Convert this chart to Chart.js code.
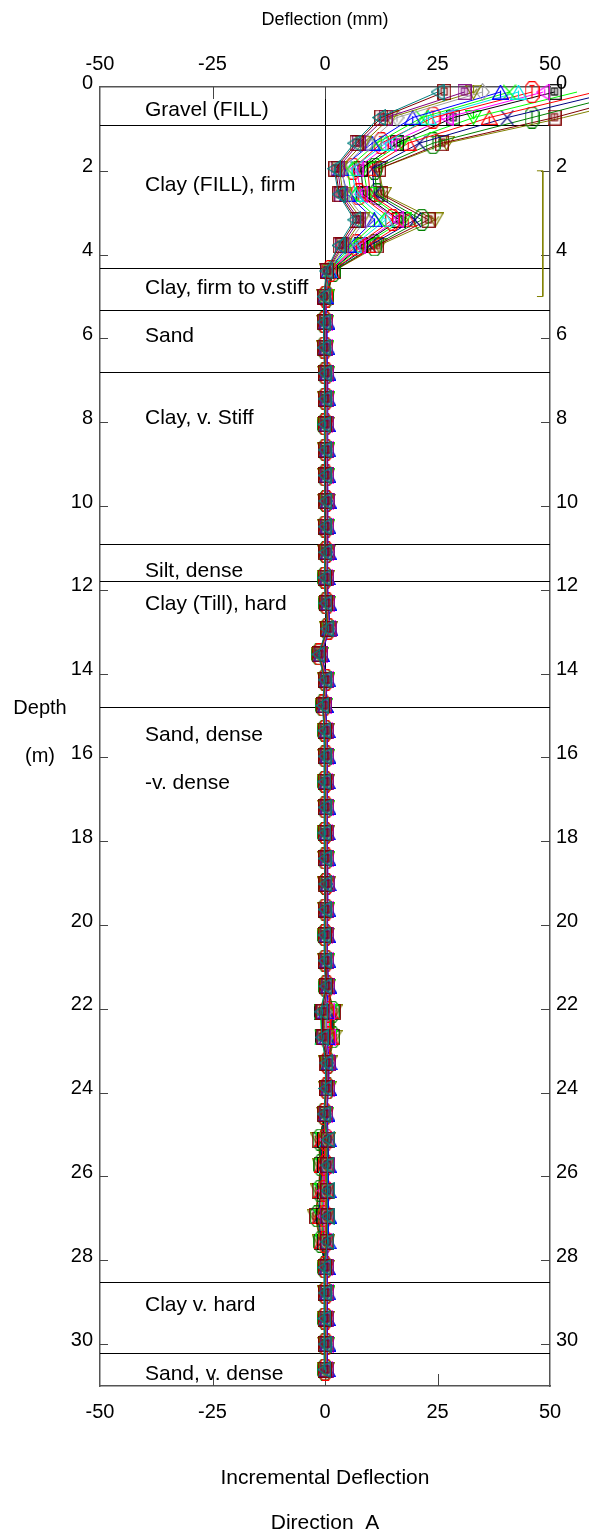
<!DOCTYPE html>
<html>
<head>
<meta charset="utf-8">
<script src="https://cdn.jsdelivr.net/npm/chart.js@4/dist/chart.umd.min.js"></script>
<style>
  html, body { margin: 0; padding: 0; background: #fff; }
  #wrap { width: 589px; height: 1539px; }
</style>
</head>
<body>
<div id="wrap"><canvas id="c" width="589" height="1539"></canvas></div>
<script>
// Reading depths (m), one row every 2 ft down the casing
const depths = [0.12, 0.73, 1.34, 1.95, 2.56, 3.17, 3.78, 4.39, 5.00, 5.61, 6.22, 6.83, 7.44, 8.05, 8.66, 9.27, 9.88,
  10.49, 11.10, 11.71, 12.32, 12.93, 13.54, 14.15, 14.76, 15.36, 15.97, 16.58, 17.19, 17.80, 18.41, 19.02, 19.63,
  20.24, 20.85, 21.46, 22.07, 22.68, 23.29, 23.90, 24.51, 25.12, 25.73, 26.34, 26.95, 27.56, 28.17, 28.78, 29.39,
  30.00, 30.61];

// Axis ticks
const xTicks = [-50, -25, 0, 25, 50];
const depthTicks = [0, 2, 4, 6, 8, 10, 12, 14, 16, 18, 20, 22, 24, 26, 28, 30];
const xMin = -50, xMax = 50, depthMin = 0, depthMax = 31;

// Soil profile
const layerDepths = [0.90, 4.31, 5.31, 6.79, 10.91, 11.79, 14.79, 28.51, 30.21];
const soilNames = ['Gravel (FILL)', 'Clay (FILL), firm', 'Clay, firm to v.stiff', 'Sand', 'Clay, v. Stiff',
  'Silt, dense', 'Clay (Till), hard', 'Sand, dense', '-v. dense', 'Clay v. hard', 'Sand, v. dense'];
const soilDepths = [0.56, 2.34, 4.80, 5.95, 7.90, 11.55, 12.34, 15.46, 16.61, 29.06, 30.71];
const soilTextX = -40;

// Bracket marking the zone of movement
const bracketX = [47.1, 48.4, 48.4, 47.1];
const bracketDepth = [2.0, 2.0, 5.0, 5.0];

// Incremental deflection readings (mm), one list per survey, earliest first
const r01 = [25,12,6.5,2,3,6.5,3,0.3,-0.3, -0.3,-0.3,-0.1,-0.1,-0.2,-0.1,-0.1, 0,-0.1,0,-0.2,0.1,0.4,-1.5, -0.1,-0.6,-0.2,-0.1,-0.2,-0.1,-0.2, -0.1,0,-0.1,-0.2,-0.1,0.1,-0.9, -0.7,0.2,0.1,-0.3,0.7,0.5,0.6, 0.6,0.5,-0.2,-0.1,-0.2,-0.1,-0.2];
const r02 = [26.5,12.5,7,2.3,3.2,7,3.3,0.4,-0.2, -0.2,-0.2,0,0,-0.1,0,0, 0.1,0,0.1,-0.1,0.2,0.5,-1.4, 0,-0.5,-0.1,0,-0.1,0,-0.1, 0,0.1,0,-0.1,0,0.2,-0.6, -0.5,0.3,0.2,-0.2,0.6,0.5,0.5, 0.6,0.4,-0.1,0,-0.1,0,-0.1];
const r03 = [31,13.5,7.5,2.8,3.6,7.5,3.8,0.5,-0.2, 0.3,0.3,0.5,0.5,0.4,0.5,0.5, 0.6,0.5,0.6,0.4,0.7,1.0,-0.9, 0.5,0,0.4,0.5,0.4,0.5,0.4, 0.5,0.6,0.5,0.4,0.5,0.7,-0.4, -0.2,0.8,0.7,0.3,0.6,0.6,0.5, 0.5,0.5,0.4,0.5,0.4,0.5,0.4];
const r04 = [33,14.5,8.5,3.2,4,8.2,4.2,0.6,-0.1, -0.1,-0.1,0.1,0.1,0,0.1,0.1, 0.2,0.1,0.2,0,0.3,0.6,-1.3, 0.1,-0.4,0,0.1,0,0.1,0, 0.1,0.2,0.1,0,0.1,0.3,-0.2, 0,0.4,0.3,-0.1,0.5,0.4,0.4, 0.4,0.4,0,0.1,0,0.1,0];
const r05 = [35,16,9.5,3.8,4.6,9,4.8,0.7,-0.1, 0.2,0.2,0.4,0.4,0.3,0.4,0.4, 0.5,0.4,0.5,0.3,0.6,0.9,-1.0, 0.4,-0.1,0.3,0.4,0.3,0.4,0.3, 0.4,0.5,0.4,0.3,0.4,0.6,0, 0.2,0.7,0.6,0.2,0.5,0.4,0.3, 0.3,0.3,0.3,0.4,0.3,0.4,0.3];
const r06 = [39,19.5,10.5,3.5,5,11,5.2,0.8,0, 0.4,0.4,0.6,0.6,0.5,0.6,0.6, 0.7,0.6,0.7,0.5,0.8,1.1,-0.8, 0.6,0.1,0.5,0.6,0.5,0.6,0.5, 0.6,0.7,0.6,0.5,0.6,0.8,0.2, 0.4,0.9,0.8,0.4,0.8,0.7,0.7, 0.8,0.7,0.5,0.6,0.5,0.6,0.5];
const r07 = [41,21.5,11.5,5,5.8,12,5.8,0.9,0, -0.2,-0.2,0,0,-0.1,0,0, 0.1,0,0.1,-0.1,0.2,0.5,-1.4, 0,-0.5,-0.1,0,-0.1,0,-0.1, 0,0.1,0,-0.1,0,0.2,-1.0, -0.8,0.3,0.2,-0.2,0.3,0.3,0.2, 0.3,0.2,-0.1,0,-0.1,0,-0.1];
const r08 = [43,23,13.5,6,6.8,13.5,6.4,1.0,0, 0.3,0.3,0.5,0.5,0.4,0.5,0.5, 0.6,0.5,0.6,0.4,0.7,1.0,-0.9, 0.5,0,0.4,0.5,0.4,0.5,0.4, 0.5,0.6,0.5,0.4,0.5,0.7,-0.5, -0.3,0.8,0.7,0.3,0.6,0.6,0.6, 0.7,0.6,0.4,0.5,0.4,0.5,0.4];
const r09 = [46,24,12.5,6.2,7.5,15,7,1.1,0.1, 0,0,0.2,0.2,0.1,0.2,0.2, 0.3,0.2,0.3,0.1,0.4,0.7,-1.2, 0.2,-0.3,0.1,0.2,0.1,0.2,0.1, 0.2,0.3,0.2,0.1,0.2,0.4,0.3, 0.5,0.5,0.4,0,0.2,0.1,0, 0,0,0.1,0.2,0.1,0.2,0.1];
const r10 = [48.5,27,14.5,7,8,16,7.5,1.2,0.1, 0.2,0.2,0.4,0.4,0.3,0.4,0.4, 0.5,0.4,0.5,0.3,0.6,0.9,-1.0, 0.4,-0.1,0.3,0.4,0.3,0.4,0.3, 0.4,0.5,0.4,0.3,0.4,0.6,0.6, 0.8,0.7,0.6,0.2,0,-0.1,-0.2, -0.3,-0.1,0.3,0.4,0.3,0.4,0.3];
const r11 = [51,28.5,16,8,8.5,16.5,8,1.3,0.1, -0.1,-0.1,0.1,0.1,0,0.1,0.1, 0.2,0.1,0.2,0,0.3,0.6,-1.3, 0.1,-0.4,0,0.1,0,0.1,0, 0.1,0.2,0.1,0,0.1,0.3,-0.8, -0.6,0.4,0.3,-0.1,-0.2,-0.2,-0.3, -0.5,-0.3,0,0.1,0,0.1,0];
const r12 = [56,33,17,8.5,9.5,17.5,8.5,1.4,0.2, 0.1,0.1,0.3,0.3,0.2,0.3,0.3, 0.4,0.3,0.4,0.2,0.5,0.8,-1.1, 0.3,-0.2,0.2,0.3,0.2,0.3,0.2, 0.3,0.4,0.3,0.2,0.3,0.5,0.9, 1.0,0.6,0.5,0.1,-0.4,-0.3,-0.5, -0.8,-0.4,0.2,0.3,0.2,0.3,0.2];
const r13 = [60,36.5,18.5,9.5,10,18.5,9.5,1.5,0.2, 0.3,0.3,0.5,0.5,0.4,0.5,0.5, 0.6,0.5,0.6,0.4,0.7,1.0,-0.9, 0.5,0,0.4,0.5,0.4,0.5,0.4, 0.5,0.6,0.5,0.4,0.5,0.7,1.2, 1.3,0.8,0.7,0.3,-0.6,-0.5,-0.7, -1.1,-0.6,0.4,0.5,0.4,0.5,0.4];
const r14 = [64,40.5,21,10.5,11,20,10,1.6,0.3, 0,0,0.2,0.2,0.1,0.2,0.2, 0.3,0.2,0.3,0.1,0.4,0.7,-1.2, 0.2,-0.3,0.1,0.2,0.1,0.2,0.1, 0.2,0.3,0.2,0.1,0.2,0.4,1.4, 1.5,0.6,0.5,0,-0.9,-0.7,-0.9, -1.4,-0.8,0.1,0.2,0.1,0.2,0.1];
const r15 = [68,46,24,11,11.5,21.5,11,1.8,0.3, -0.2,-0.2,0,0,-0.1,0,0, 0.1,0,0.1,-0.1,0.2,0.5,-1.4, 0,-0.5,-0.1,0,-0.1,0,-0.1, 0,0.1,0,-0.1,0,0.2,1.6, 1.7,0.6,0.5,-0.2,-1.1,-0.9,-1.1, -1.7,-0.9,-0.1,0,-0.1,0,-0.1];
const r16 = [72,51,26,12,12.5,23,11.5,1.9,0.4, 0.1,0.1,0.3,0.3,0.2,0.3,0.3, 0.4,0.3,0.4,0.2,0.5,0.8,-1.1, 0.3,-0.2,0.2,0.3,0.2,0.3,0.2, 0.3,0.4,0.3,0.2,0.3,0.5,1.9, 1.8,0.8,0.7,0.1,-1.4,-1.0,-1.4, -2.0,-1.0,0.2,0.3,0.2,0.3,0.2];
const r17 = [76,53,27,12,13,24.5,12,2.0,0.4, 0.2,0.2,0.4,0.4,0.3,0.4,0.4, 0.5,0.4,0.5,0.3,0.6,0.9,-1.0, 0.4,-0.1,0.3,0.4,0.3,0.4,0.3, 0.4,0.5,0.4,0.3,0.4,0.6,2.0, 2.0,0.9,0.8,0.2,-1.5,-1.1,-1.5, -2.2,-1.1,0.3,0.4,0.3,0.4,0.3];

const readings = [r01, r02, r03, r04, r05, r06, r07, r08, r09, r10, r11, r12, r13, r14, r15, r16, r17];
const seriesColors = ['#008080', '#800000', '#800080', '#808000', '#a0a0a0', '#0000ff', '#00ff00', '#00e8e8',
  '#ff0000', '#ff00ff', '#000000', '#00ff00', '#ff0000', '#000080', '#008000', '#800000', '#808000'];
const seriesShapes = ['ltri', 'sq', 'sq', 'dtri', 'dia', 'tri', 'x', 'tri', 'oct', 'ltri', 'sq', 'dtri', 'tri',
  'x', 'oct', 'sq', 'dtri'];

const FONT = '"Liberation Sans", Arial, sans-serif';

// Open plotting symbols rendered once per series
function makeMarker(shape, color) {
  const sizes = { sq: [14, 16], oct: [15, 22], tri: [17, 15], dtri: [17, 15], ltri: [14, 17], x: [14, 16], dia: [15, 18] };
  const [w, h] = sizes[shape];
  const c = document.createElement('canvas');
  c.width = w; c.height = h;
  const g = c.getContext('2d');
  g.strokeStyle = color;
  g.lineWidth = 1.2;
  const poly = pts => { g.beginPath(); pts.forEach((p, i) => i ? g.lineTo(p[0], p[1]) : g.moveTo(p[0], p[1])); g.closePath(); g.stroke(); };
  const seg = (a, b, cx, d) => { g.beginPath(); g.moveTo(a, b); g.lineTo(cx, d); g.stroke(); };
  if (shape === 'sq') {
    g.strokeRect(0.7, 0.7, w - 1.4, h - 1.4);
    g.strokeRect(4, 4, w - 8, h - 9);
    seg(w / 2, 4, w / 2, h - 5);
  } else if (shape === 'oct') {
    poly([[4.5, 0.7], [10.5, 0.7], [14.3, 5.5], [14.3, 16.5], [10.5, 21.3], [4.5, 21.3], [0.7, 16.5], [0.7, 5.5]]);
    seg(7.5, 4.5, 7.5, 17.5); seg(5, 4.5, 10, 4.5);
  } else if (shape === 'tri') {
    poly([[8.5, 0.7], [16.3, 14.3], [0.7, 14.3]]);
    seg(8.5, 6, 8.5, 13.5);
  } else if (shape === 'dtri') {
    poly([[0.7, 0.7], [16.3, 0.7], [8.5, 14.3]]);
    seg(8.5, 1, 8.5, 9); seg(5, 4, 8.5, 9); seg(12, 4, 8.5, 9);
  } else if (shape === 'ltri') {
    poly([[0.7, 8.5], [13.3, 0.7], [13.3, 16.3]]);
    seg(8.5, 5.5, 8.5, 11.5);
  } else if (shape === 'x') {
    seg(0.7, 0.7, 13.3, 15.3); seg(13.3, 0.7, 0.7, 15.3);
  } else if (shape === 'dia') {
    poly([[7.5, 0.7], [14.3, 9], [7.5, 17.3], [0.7, 9]]);
    seg(7.5, 4.5, 7.5, 13.5);
  }
  return c;
}

const datasets = [{
  data: bracketX.map((v, i) => ({ x: v, y: bracketDepth[i] })),
  showLine: true, borderColor: '#808000', borderWidth: 1, pointRadius: 0, clip: false
}];
readings.forEach((vals, k) => {
  datasets.push({
    data: vals.map((v, i) => ({ x: v, y: depths[i] })),
    showLine: true,
    borderColor: seriesColors[k],
    backgroundColor: seriesColors[k],
    borderWidth: 1,
    pointStyle: makeMarker(seriesShapes[k], seriesColors[k]),
    pointRadius: 7,
    clip: false
  });
});

// Soil boundaries, zero line, soil names and the inward tick marks
const profilePlugin = {
  id: 'profile',
  beforeDatasetsDraw(chart) {
    const { ctx, chartArea: a, scales: { x, y } } = chart;
    ctx.save();
    ctx.strokeStyle = '#000';
    ctx.lineWidth = 1;
    const x0 = Math.round(x.getPixelForValue(0)) + 0.5;
    ctx.beginPath(); ctx.moveTo(x0, a.top); ctx.lineTo(x0, a.bottom); ctx.stroke();
    layerDepths.forEach(d => {
      const py = Math.round(y.getPixelForValue(d)) + 0.5;
      ctx.beginPath(); ctx.moveTo(a.left, py); ctx.lineTo(a.right, py); ctx.stroke();
    });
    ctx.fillStyle = '#000';
    ctx.font = '21px ' + FONT;
    ctx.textAlign = 'left';
    ctx.textBaseline = 'middle';
    soilNames.forEach((n, i) => ctx.fillText(n, x.getPixelForValue(soilTextX), y.getPixelForValue(soilDepths[i])));
    ctx.strokeStyle = '#444';
    depthTicks.forEach(d => {
      if (d === depthMin) return;
      const py = Math.round(y.getPixelForValue(d)) + 0.5;
      ctx.beginPath(); ctx.moveTo(a.left, py); ctx.lineTo(a.left + 8, py); ctx.stroke();
      ctx.beginPath(); ctx.moveTo(a.right - 9, py); ctx.lineTo(a.right, py); ctx.stroke();
    });
    xTicks.forEach(v => {
      if (v === xMin || v === xMax) return;
      const px = Math.round(x.getPixelForValue(v)) + 0.5;
      ctx.beginPath(); ctx.moveTo(px, a.bottom); ctx.lineTo(px, a.bottom - 12); ctx.stroke();
      ctx.beginPath(); ctx.moveTo(px, a.top); ctx.lineTo(px, a.top + 12); ctx.stroke();
    });
    ctx.restore();
  },
  afterDraw(chart) {
    const { ctx, chartArea: a } = chart;
    const cx = (a.left + a.right) / 2;
    ctx.save();
    ctx.fillStyle = '#000';
    ctx.textAlign = 'center';
    ctx.textBaseline = 'middle';
    ctx.font = '18px ' + FONT;
    ctx.fillText('Deflection (mm)', cx, 20);
    ctx.font = '21px ' + FONT;
    ctx.fillText('Incremental Deflection', cx, 1478);
    ctx.fillText('Direction  A', cx, 1523);
    ctx.font = '20px ' + FONT;
    ctx.fillText('Depth', 40, 708);
    ctx.fillText('(m)', 40, 756);
    ctx.restore();
  }
};

const tickFont = { family: FONT, size: 20 };
const frame = { display: true, color: '#555', width: 1.5 };
const xAxis = (position, height, padding) => ({
  type: 'linear', position, min: xMin, max: xMax,
  afterBuildTicks: s => { s.ticks = xTicks.map(v => ({ value: v })); },
  afterFit: s => { s.height = height; },
  grid: { display: false, drawTicks: false },
  border: frame,
  ticks: { font: tickFont, color: '#000', padding, maxRotation: 0, autoSkip: false }
});
const yAxis = (position, width, padding) => ({
  type: 'linear', position, reverse: true, min: depthMin, max: depthMax,
  afterBuildTicks: s => { s.ticks = depthTicks.map(v => ({ value: v })); },
  afterFit: s => { s.width = width; },
  grid: { display: false, drawTicks: false },
  border: frame,
  ticks: { font: tickFont, color: '#000', padding, labelOffset: -4, autoSkip: false }
});

new Chart(document.getElementById('c'), {
  type: 'scatter',
  data: { datasets },
  options: {
    responsive: false,
    animation: false,
    devicePixelRatio: 1,
    events: [],
    layout: { padding: 0 },
    plugins: { legend: { display: false }, tooltip: { enabled: false } },
    scales: {
      x: xAxis('bottom', 153, 14),
      xTop: xAxis('top', 87, 11),
      y: yAxis('left', 100, 7),
      yRight: yAxis('right', 39, 6)
    }
  },
  plugins: [profilePlugin]
});
</script>
</body>
</html>
